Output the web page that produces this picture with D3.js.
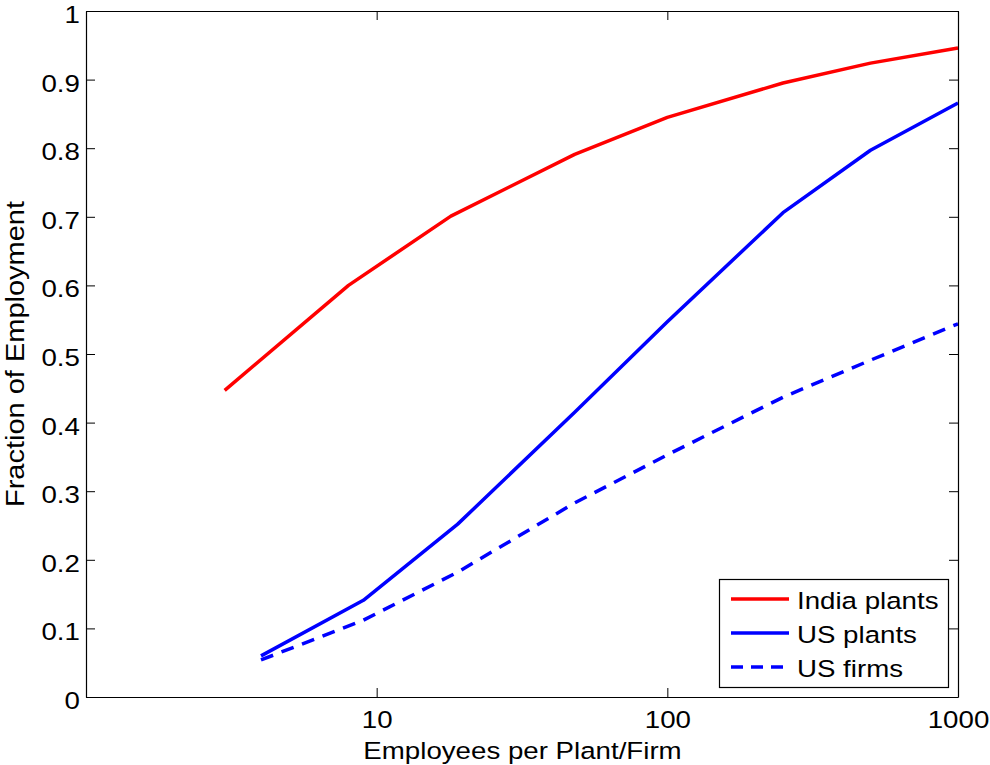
<!DOCTYPE html>
<html>
<head>
<meta charset="utf-8">
<script src="https://cdn.jsdelivr.net/npm/d3@7"></script>
<style>
  html, body { margin: 0; padding: 0; background: #fff; }
  svg { display: block; font-family: "Liberation Sans", Arial, Helvetica, sans-serif; }
</style>
</head>
<body>
<svg id="chart" width="990" height="765"></svg>
<script>
// Employees per plant/firm (bin points) and cumulative share of employment
const indiaSizes   = [3, 8, 18, 48, 100, 250, 500, 1000];
const indiaPlants  = [0.447, 0.600, 0.701, 0.791, 0.845, 0.895, 0.924, 0.946];
const usSizes      = [4, 9, 19, 48, 100, 250, 500, 1000];
const usPlants     = [0.060, 0.141, 0.252, 0.415, 0.547, 0.706, 0.797, 0.866];
const usFirms      = [0.054, 0.112, 0.182, 0.283, 0.353, 0.437, 0.491, 0.544];

const xTicks = [10, 100, 1000];
const yTicks = [0, 0.1, 0.2, 0.3, 0.4, 0.5, 0.6, 0.7, 0.8, 0.9, 1];
const yTickLabels = ["0", "0.1", "0.2", "0.3", "0.4", "0.5", "0.6", "0.7", "0.8", "0.9", "1"];

const seriesList = [
  { name: "India plants", x: indiaSizes, y: indiaPlants, color: "#ff0000", dash: null },
  { name: "US plants",    x: usSizes,    y: usPlants,    color: "#0000ff", dash: null },
  { name: "US firms",     x: usSizes,    y: usFirms,     color: "#0000ff", dash: "13,9" }
];

const svg = d3.select("#chart");
const plotLeft = 86, plotRight = 958, plotTop = 11, plotBottom = 697;
const fontSize = 24.5;
const stretch = "scale(1.13,1)"; // wide Helvetica-style lettering

const x = d3.scaleLog().domain([1, 1000]).range([plotLeft, plotRight]);
const y = d3.scaleLinear().domain([0, 1]).range([plotBottom, plotTop]);

// plotted series
const line = d3.line().x(d => x(d[0])).y(d => y(d[1]));
seriesList.forEach(s => {
  svg.append("path")
    .datum(s.x.map((v, i) => [v, s.y[i]]))
    .attr("d", line)
    .attr("fill", "none")
    .attr("stroke", s.color)
    .attr("stroke-width", 3.5)
    .attr("stroke-linejoin", "round")
    .attr("stroke-dasharray", s.dash);
});

// axes (inward ticks on all four sides)
function styleAxis(g) {
  g.selectAll("path.domain").attr("stroke", "#000").attr("stroke-width", 1.2);
  g.selectAll(".tick line").attr("stroke", "#000").attr("stroke-width", 1);
  g.selectAll(".tick text").attr("fill", "#000").attr("font-size", fontSize)
    .attr("font-family", "Liberation Sans, Arial, sans-serif")
    .attr("transform", stretch);
}

svg.append("g").attr("transform", `translate(0,${plotBottom})`)
  .call(d3.axisBottom(x).tickValues(xTicks).tickFormat(d3.format("d"))
    .tickSizeInner(-9).tickSizeOuter(0).tickPadding(13.6))
  .call(styleAxis);

svg.append("g").attr("transform", `translate(0,${plotTop})`)
  .call(d3.axisTop(x).tickValues(xTicks).tickFormat("")
    .tickSizeInner(-9).tickSizeOuter(0))
  .call(styleAxis);

svg.append("g").attr("transform", `translate(${plotLeft},0)`)
  .call(d3.axisLeft(y).tickValues(yTicks).tickFormat((d, i) => yTickLabels[i])
    .tickSizeInner(-9).tickSizeOuter(0).tickPadding(5.4))
  .call(styleAxis)
  .call(g => g.selectAll(".tick text").attr("dy", "0.47em"));

svg.append("g").attr("transform", `translate(${plotRight},0)`)
  .call(d3.axisRight(y).tickValues(yTicks).tickFormat("")
    .tickSizeInner(-9).tickSizeOuter(0))
  .call(styleAxis);

// axis titles
svg.append("text")
  .attr("transform", `translate(522.5,759) ${stretch}`)
  .attr("text-anchor", "middle")
  .attr("font-size", fontSize)
  .attr("fill", "#000")
  .text("Employees per Plant/Firm");

svg.append("text")
  .attr("transform", `translate(24,${(plotTop + plotBottom) / 2}) rotate(-90) scale(1.16,1)`)
  .attr("text-anchor", "middle")
  .attr("font-size", 25)
  .attr("fill", "#000")
  .text("Fraction of Employment");

// legend
const lg = svg.append("g");
lg.append("rect")
  .attr("x", 719.5).attr("y", 579.5).attr("width", 229).attr("height", 108)
  .attr("fill", "#fff").attr("stroke", "#000").attr("stroke-width", 1.2);
const rowY = [599, 633, 667];
seriesList.forEach((s, i) => {
  lg.append("line")
    .attr("x1", 731).attr("x2", 789)
    .attr("y1", rowY[i]).attr("y2", rowY[i])
    .attr("stroke", s.color).attr("stroke-width", 3.5)
    .attr("stroke-dasharray", s.dash ? "12,8" : null);
  lg.append("text")
    .attr("transform", `translate(797,${rowY[i] + 10}) ${stretch}`)
    .attr("font-size", fontSize).attr("fill", "#000")
    .text(s.name);
});
</script>
</body>
</html>
